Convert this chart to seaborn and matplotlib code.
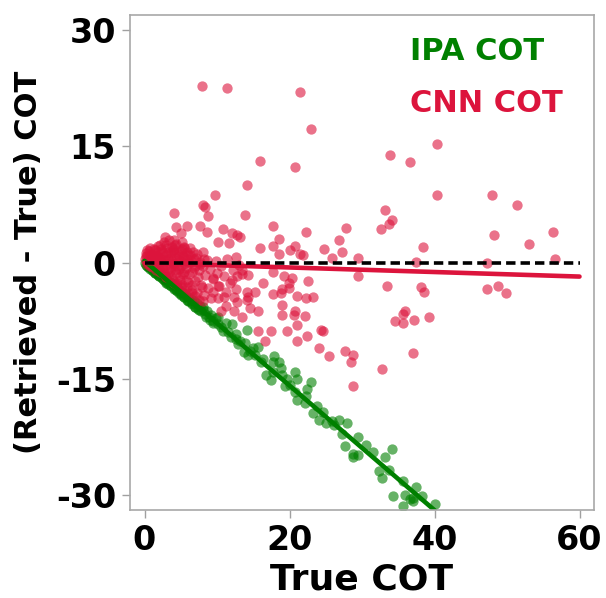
import numpy as np
import pandas as pd
import seaborn as sns
import matplotlib.pyplot as plt

# ---------------- data ----------------
ipa_x = [0.1, 0.2, 0.3, 0.4, 0.5, 0.6, 0.7, 0.8, 0.9, 1.0, 1.1, 1.2, 1.3, 1.4, 1.5, 1.6, 1.7, 1.8, 1.9, 2.0,
         2.2, 2.4, 2.5, 2.7, 2.8, 3.0, 3.1, 3.3, 3.5, 3.6, 3.8, 4.0, 4.1, 4.3, 4.5, 4.7, 4.8, 5.0, 5.2, 5.4,
         5.6, 5.8, 6.0, 6.2, 6.4, 6.6, 6.8, 7.0, 7.2, 7.4, 7.6, 7.8, 8.0, 8.3, 8.6, 8.9, 9.2, 9.5, 9.8, 10.1,
         8.1, 10.5, 12.1, 14.2, 12.6, 13.7, 14.3, 15.7, 17.8, 18.6, 16.7, 17.5, 18.8, 20.8, 21.1, 22.9, 19.4,
         20.8, 22.4, 21.1, 22.2, 23.3, 24.0, 25.0, 25.9, 26.8, 27.9, 27.3, 27.7, 28.7, 29.4, 28.8, 29.4, 32.4,
         32.8, 33.2, 34.1, 33.7, 35.6, 34.3, 35.9, 36.6, 37.1, 37.4, 38.3, 35.7, 40.1, 37.0,
         9.0, 10.2, 11.2, 12.6, 13.2, 13.9, 15.0, 16.3, 17.7, 17.7, 19.7, 22.3,
         10.8, 11.5, 11.9, 12.9, 14.6, 15.3, 16.0, 19.0, 20.0, 23.8, 24.6, 26.2, 30.5, 31.5,
         0.5, 1.0, 1.5, 2.0, 2.5, 3.0, 3.5, 4.0, 4.5, 5.0, 5.5, 6.0, 6.5, 7.0, 7.5, 8.5, 9.5]
ipa_y = [0.0, -0.3, 0.1, -0.4, -0.2, -0.6, -0.3, -0.8, -0.5, -0.9, -0.6, -1.1, -0.8, -1.3, -0.9, -1.4, -1.1, -1.6, -1.3, -1.7,
         -1.5, -2.0, -1.7, -2.3, -1.9, -2.5, -2.2, -2.8, -2.5, -3.0, -2.7, -3.3, -2.9, -3.6, -3.2, -3.9, -3.5, -4.2, -3.8, -4.4,
         -4.1, -4.8, -4.4, -5.0, -4.7, -5.4, -5.0, -5.7, -5.2, -6.0, -5.6, -6.3, -5.8, -6.7, -6.3, -7.1, -6.8, -7.6, -7.2, -8.0,
         -6.1, -8.4, -8.0, -8.7, -9.9, -11.6, -11.9, -10.9, -12.1, -12.9, -14.5, -15.2, -13.7, -14.1, -15.1, -15.5, -16.0,
         -16.8, -16.4, -17.8, -18.2, -19.4, -20.3, -20.7, -20.5, -20.3, -20.7, -22.2, -23.7, -24.8, -24.9, -25.2, -22.5, -27.0,
         -27.9, -25.2, -24.1, -26.8, -28.3, -30.2, -30.0, -30.6, -30.5, -29.0, -30.2, -31.5, -31.2, -30.8,
         -7.4, -7.0, -7.8, -9.3, -10.2, -10.4, -11.0, -12.5, -12.9, -14.1, -15.1, -17.3,
         -8.8, -9.0, -9.6, -10.6, -11.5, -12.0, -12.9, -14.6, -15.9, -18.5, -19.3, -21.0, -23.6, -24.5,
         -0.6, -1.0, -1.3, -1.8, -2.1, -2.6, -2.9, -3.4, -3.7, -4.1, -4.5, -5.0, -5.3, -5.7, -6.1, -7.0, -7.8]

cnn_x = [0.1, 0.2, 0.3, 0.4, 0.5, 0.6, 0.7, 0.8, 0.9, 1.0, 1.1, 1.2, 1.3, 1.4, 1.5, 1.6, 1.7, 1.8, 1.9, 2.0,
         2.1, 2.2, 2.3, 2.4, 2.5, 2.6, 2.7, 2.8, 2.9, 3.0, 3.1, 3.2, 3.3, 3.4, 3.5, 3.6, 3.7, 3.8, 3.9, 4.0,
         4.1, 4.2, 4.3, 4.4, 4.5, 4.6, 4.7, 4.8, 4.9, 5.0, 5.1, 5.2, 5.3, 5.4, 5.5, 5.6, 5.7, 5.8, 5.9, 6.0,
         6.2, 6.4, 6.5, 6.7, 6.8, 7.0, 7.1, 7.3, 7.5, 7.6, 7.8, 8.0, 8.2, 8.4, 8.6, 8.8, 9.0, 9.2, 9.5, 9.8,
         10.0, 10.3, 10.6, 11.0, 11.4, 11.8, 12.2, 12.6, 13.0, 13.5,
         0.2, 0.3, 0.5, 0.6, 0.8, 0.9, 1.1, 1.2, 1.4, 1.5, 1.7, 1.8, 2.0, 2.1, 2.3, 2.4, 2.6, 2.7, 2.9, 3.0,
         3.2, 3.3, 3.5, 3.6, 3.8, 3.9, 4.1, 4.2, 4.4, 4.5, 4.7, 4.9, 5.0, 5.2, 5.3, 5.5, 5.7, 5.8, 6.0, 6.1,
         6.3, 6.5, 6.6, 6.8, 7.0, 7.2, 7.4, 7.7, 7.9, 8.2,
         3.0, 4.0, 5.0, 6.0, 7.0, 8.0, 5.5, 6.5, 7.5, 4.5,
         7.9, 11.4, 21.5, 23.0, 15.9, 20.8, 40.3, 33.9, 36.6, 40.3, 47.9, 51.4, 48.2, 53.0, 56.4, 56.6,
         47.2, 48.8, 49.8, 47.3, 33.2, 32.6, 33.7, 34.1, 38.4, 37.5, 33.4, 38.1, 38.5, 35.9, 35.7, 34.5,
         35.6, 37.2, 39.2, 22.3, 24.8, 25.9, 26.8, 27.3, 27.8, 29.4, 29.5, 22.5, 22.3, 23.3, 22.2, 24.4,
         21.8, 18.9, 20.8, 20.6, 19.0, 21.0, 19.6, 17.5, 15.6, 16.6, 21.1, 22.4, 24.6, 24.0, 25.5, 27.7,
         28.7, 28.5, 28.7, 32.8, 37.0, 12.3, 13.5, 14.6, 15.7, 10.5, 11.3, 12.8, 14.2, 21.1, 19.9, 18.8,
         17.7, 18.9, 16.4, 15.3, 14.2, 14.3, 14.2, 13.8, 17.7, 18.5, 15.9, 17.7, 18.6, 20.0, 20.8, 21.5,
         17.7, 19.2, 20.4, 19.9, 13.5, 14.3, 13.2, 9.7, 8.3, 8.1, 8.8, 4.0, 4.3, 5.9, 7.7, 8.6,
         5.1, 2.8, 4.1, 5.2, 10.1, 10.8, 12.1, 11.6, 12.8, 8.1, 6.3, 5.4, 3.9, 12.6, 9.4, 10.2,
         9.5, 11.3, 12.1, 12.8, 10.1, 10.9, 12.4]
cnn_y = [0.5, 1.2, -0.2, 0.8, 0.1, 1.5, -0.4, 0.6, 0.2, 1.0, -0.6, 0.4, 1.8, -0.2, 0.9, -1.0, 0.3, 1.3, -0.5, 0.7,
         2.2, -1.2, 0.1, 1.5, -0.8, 0.5, 2.6, -1.6, 1.0, -0.3, 1.9, -1.9, 0.4, 2.9, -1.1, 1.2, -0.6, 0.2, -2.2, 1.7,
         -0.2, 2.3, -1.4, 0.6, -2.6, 1.1, -0.9, 0.3, -1.8, 1.5, -0.4, -2.9, 0.8, -1.2, 2.0, -0.1, -2.3, 0.5, -3.2, 1.0,
         -1.5, 0.2, -3.5, 1.4, -0.7, -2.4, 0.6, -3.9, -1.0, 0.1, -2.9, -0.4, -4.2, -1.6, 0.3, -3.3, -0.9, -4.6, -2.1, 0.2,
         -1.3, -3.0, -0.5, -1.8, 0.4, -2.6, -1.0, -3.4, -0.3, -1.5,
         0.9, 1.6, -0.1, 0.7, 1.9, -0.3, 1.1, 0.0, 1.6, -0.5, 0.8, 2.1, -0.9, 0.4, 1.8, -0.3, 1.2, -1.3, 0.2, 2.3,
         -0.8, 1.4, 0.6, -1.7, 2.0, 0.0, 1.3, -1.0, 2.4, -0.4, 0.9, -2.2, 0.2, 1.8, -1.5, 0.7, -0.7, 1.3, -2.5, 0.0,
         1.0, -1.2, -2.9, 0.4, -0.4, 1.1, -1.9, -0.2, -3.2, 0.5,
         -1.9, -2.6, -3.2, -3.9, -4.3, -5.0, -3.6, -4.0, -4.8, -2.9,
         22.8, 22.5, 22.1, 17.3, 13.1, 12.4, 15.3, 13.9, 13.0, 8.7, 8.7, 7.4, 3.6, 2.4, 4.0, 0.5,
         -3.4, -3.0, -4.0, 0.0, 6.8, 4.3, 5.0, 5.5, 2.0, 0.1, -3.0, -3.2, -3.8, -6.3, -6.7, -7.6,
         -7.8, -7.4, -7.1, 3.9, 1.8, 0.6, 2.9, 1.4, 4.5, 0.6, -1.8, -2.4, -4.6, -4.5, -6.9, -8.7,
         1.0, -5.5, -6.3, -6.8, -6.8, -8.1, -8.8, -8.9, -8.9, -10.2, -10.1, -9.5, -8.9, -11.0, -12.1, -11.5,
         -12.0, -12.9, -16.0, -13.8, -11.7, -6.3, -7.1, -5.9, -6.3, -6.3, -5.6, -5.1, -4.8, -4.3, -2.7, -3.9,
         -4.1, -3.4, -2.6, -3.8, -3.8, -4.4, 10.0, 6.1, 4.7, 3.0, 1.9, 2.1, 1.1, 1.6, 2.1, 1.1,
         -1.2, -1.8, -2.0, -3.3, -1.0, -1.6, 3.3, 8.7, 7.2, 7.4, 6.0, 6.4, 4.6, 4.7, 4.7, 3.9,
         3.8, 3.3, 2.9, 2.7, 2.7, 4.3, 3.8, 2.5, 3.6, 1.4, 1.9, 1.9, 1.6, 0.7, -2.0, -3.1,
         -3.8, -3.8, -2.2, -1.7, -4.6, -4.5, -4.5]

series_names = ["IPA COT", "CNN COT"]
series_colors = ["green", "crimson"]
x_ticks = [0, 20, 40, 60]
y_ticks = [-30, -15, 0, 15, 30]
ref_x = [0, 60]
ref_y = [0, 0]

# ---------------- figure ----------------
sns.set_theme(style="white")
plt.rcParams['font.family'] = ['DejaVu Sans']
plt.rcParams['font.weight'] = 'bold'
plt.rcParams['axes.labelweight'] = 'bold'
plt.rcParams['text.color'] = 'black'
plt.rcParams['axes.labelcolor'] = 'black'

fig = plt.figure(figsize=(6.06, 5.98), dpi=100)
ax = fig.add_axes([130 / 606, 1 - 510 / 598, 464 / 606, 495 / 598])
ax.set_xlim(0, 60)
ax.set_ylim(-32, 32)

for xs, ys, name, col in [(ipa_x, ipa_y, series_names[0], series_colors[0]),
                          (cnn_x, cnn_y, series_names[1], series_colors[1])]:
    sns.regplot(x=np.array(xs), y=np.array(ys), ax=ax, ci=None, truncate=False,
                color=col, label=name,
                scatter_kws=dict(s=55, alpha=0.6, linewidths=0),
                line_kws=dict(lw=3.3, alpha=1.0))

sns.lineplot(x=ref_x, y=ref_y, ax=ax, color='black', lw=2.6,
             dashes=False, linestyle=(0, (2.6, 1.4)))

ax.set_xlim(-2, 62)
ax.set_ylim(-32, 32)
ax.set_xticks(x_ticks)
ax.set_yticks(y_ticks)
ax.set_xticklabels([str(t) for t in x_ticks], fontsize=24, fontweight='bold')
ax.set_yticklabels([str(t) for t in y_ticks], fontsize=24, fontweight='bold')
ax.tick_params(bottom=True, left=True, direction='out', length=6, width=1,
               color='#a0a0a0', labelcolor='black', pad=4)
for sp in ax.spines.values():
    sp.set_color('#a8a8a8')
    sp.set_linewidth(1.2)

ax.set_xlabel("True COT", fontsize=26, fontweight='bold', color='black')
ax.set_ylabel("(Retrieved - True) COT", fontsize=22, fontweight='bold',
              color='black', labelpad=9)

leg = ax.legend(handlelength=0, handletextpad=0, markerscale=0, frameon=False,
                labelcolor=series_colors, prop=dict(weight='bold', size=22),
                loc='upper left', bbox_to_anchor=(410 / 606, 1 - 37 / 598),
                bbox_transform=fig.transFigure, borderaxespad=0, borderpad=0,
                labelspacing=0.75)
for h in leg.legend_handles:
    h.set_visible(False)

fig.savefig("out.png", dpi=100)
